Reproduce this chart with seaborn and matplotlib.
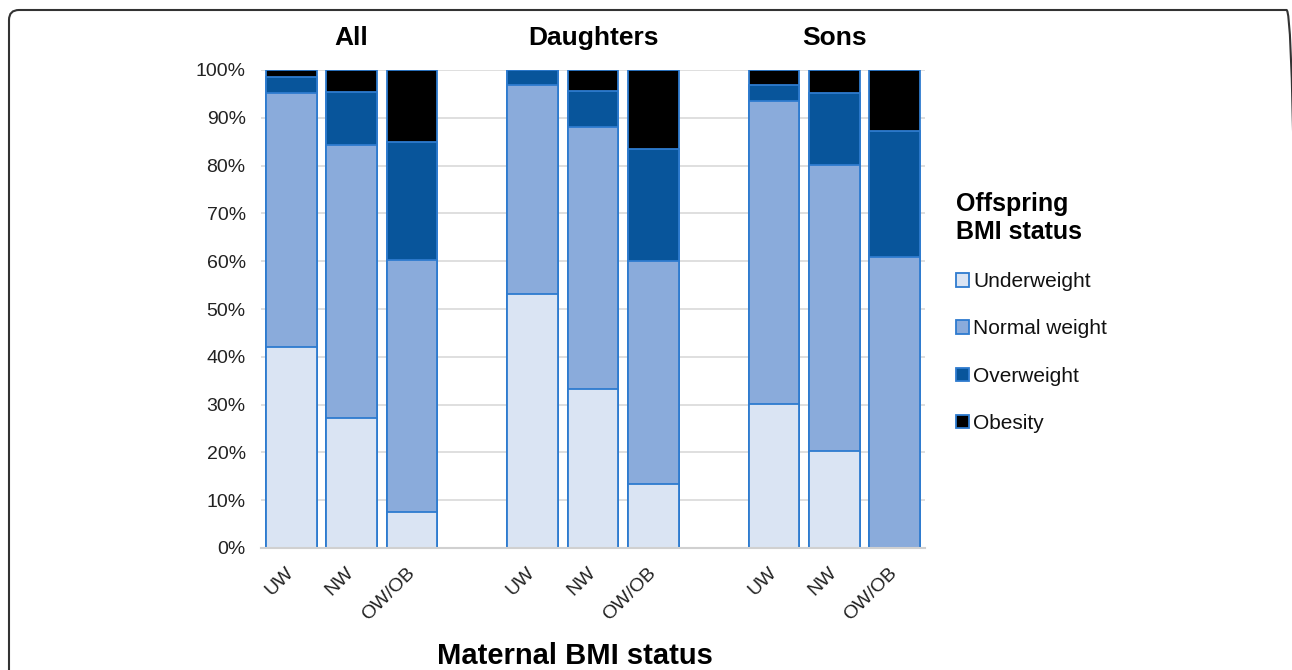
import numpy as np
import pandas as pd
import matplotlib.pyplot as plt
import seaborn as sns
from matplotlib.patches import Patch, FancyBboxPatch

# --- datos (porcentajes) ---
groups = ['All', 'Daughters', 'Sons']
maternal = ['UW', 'NW', 'OW/OB']
offspring = ['Underweight', 'Normal weight', 'Overweight', 'Obesity']

underweight = [42.0, 27.2, 7.5, 53.1, 33.3, 13.4, 30.1, 20.3, 0.0]
normal_weight = [53.2, 57.1, 52.8, 43.8, 54.8, 46.6, 63.4, 59.8, 60.9]
overweight = [3.3, 11.1, 24.6, 3.1, 7.5, 23.5, 3.4, 15.1, 26.3]
obesity = [1.5, 4.6, 15.1, 0.0, 4.4, 16.5, 3.1, 4.8, 12.8]

colors = ['#dae4f3', '#8aabdb', '#08559b', '#000000']
edge = '#2e7bcf'

sns.set_style('white')
plt.rcParams['font.family'] = ['Liberation Sans', 'DejaVu Sans']
plt.rcParams['text.color'] = '#111111'

# posiciones: 3 barras por grupo, un hueco entre grupos
pos = [g * 4 + i for g in range(len(groups)) for i in range(len(maternal))]
df = pd.DataFrame({'pos': pos,
                   'Underweight': underweight,
                   'Normal weight': normal_weight,
                   'Overweight': overweight,
                   'Obesity': obesity})
cum = df[offspring].cumsum(axis=1)

fig = plt.figure(figsize=(12.92, 6.70), dpi=100)
ax = fig.add_axes([261 / 1292, 1 - 548 / 670, 664 / 1292, 478 / 670])

# apilado: se dibuja de arriba hacia abajo
for cat, col in reversed(list(zip(offspring, colors))):
    sns.barplot(x=df['pos'], y=cum[cat], native_scale=True, width=0.84,
                color=col, saturation=1, edgecolor=edge, linewidth=1.3,
                errorbar=None, ax=ax, zorder=2)

ax.set_xlim(-0.5, 10.5)
ax.set_ylim(0, 100)
ax.set_yticks(np.arange(0, 101, 10))
ax.set_yticklabels([f'{v}%' for v in range(0, 101, 10)], fontsize=14, color='#222222')
ax.yaxis.grid(True, color='#d9d9d9', linewidth=1.2)
ax.set_axisbelow(True)
ax.tick_params(axis='y', length=0, pad=11)
ax.set_xticks(pos)
ax.set_xticklabels(maternal * len(groups), rotation=45, ha='right', va='center',
                   rotation_mode='anchor', fontsize=14, color='#222222')
ax.tick_params(axis='x', length=0, pad=16)
ax.set_xlabel('')
ax.set_ylabel('')
for s in ['left', 'right', 'top']:
    ax.spines[s].set_visible(False)
ax.spines['bottom'].set_color('#d0d0d0')
ax.spines['bottom'].set_linewidth(1.5)

# titulos de grupo
for g, name in enumerate(groups):
    ax.text(g * 4 + 1, 1.067, name, transform=ax.get_xaxis_transform(),
            ha='center', va='center', fontsize=19, fontweight='bold', color='black')

fig.text(575 / 1292, 1 - 656 / 670, 'Maternal BMI status', ha='center', va='center',
         fontsize=21, fontweight='bold', color='black')

# leyenda
handles = [Patch(facecolor=c, edgecolor=edge, linewidth=1.3) for c in colors]
leg = fig.legend(handles, offspring, loc='upper left', bbox_to_anchor=(948 / 1292, 1 - 184 / 670),
                 frameon=False, fontsize=15, title='Offspring\nBMI status',
                 title_fontproperties={'weight': 'bold', 'size': 18},
                 alignment='left', handlelength=0.6, handleheight=0.6,
                 handletextpad=0.2, labelspacing=1.35, borderaxespad=0)
leg.get_title().set_color('black')

# marco redondeado
frame = FancyBboxPatch((0.09, -0.5), 12.875, 7.1, boxstyle='round,pad=0,rounding_size=0.1',
                       transform=fig.dpi_scale_trans, facecolor='none',
                       edgecolor='#333333', linewidth=1.5, clip_on=False)
fig.add_artist(frame)

plt.savefig('out.png', dpi=100, facecolor='white')
